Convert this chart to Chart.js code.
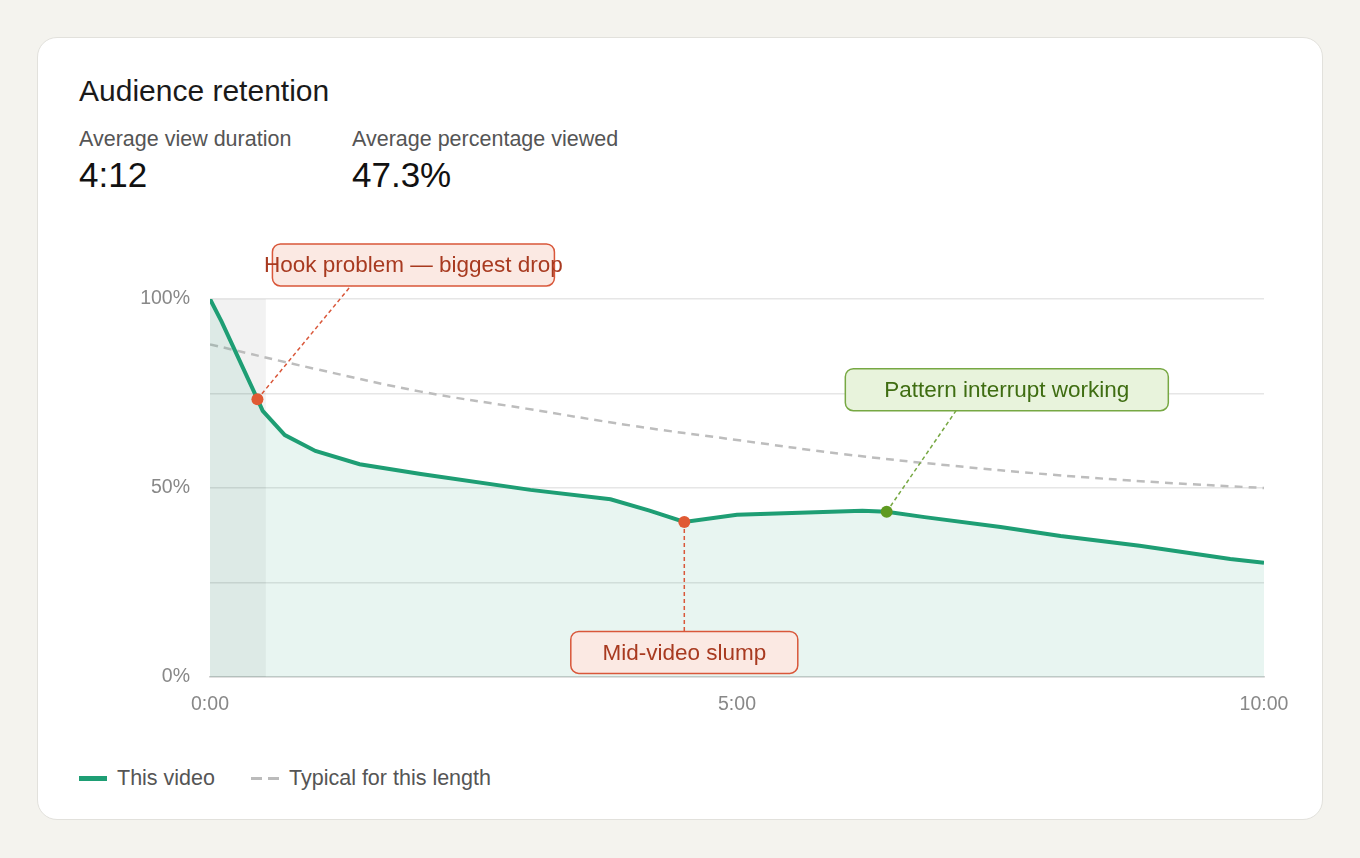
<!DOCTYPE html>
<html>
<head>
<meta charset="utf-8">
<script src="https://cdn.jsdelivr.net/npm/chart.js@4"></script>
<style>
  body { margin: 0; background: #f4f3ee; font-family: "Liberation Sans", Arial, sans-serif; }
  .card { position: absolute; left: 37px; top: 37px; width: 1284px; height: 781px; background: #fff;
          border: 1px solid #e2e1dc; border-radius: 20px; }
  .title { position: absolute; left: 41px; top: 36px; font-size: 30px; color: #1a1a1a; }
  .stat { position: absolute; top: 89px; }
  .stat .lbl { font-size: 21.5px; color: #555; }
  .stat .val { font-size: 35px; color: #111; margin-top: 3px; }
  .legend { position: absolute; left: 41px; top: 728px; font-size: 21.5px; color: #555; display: flex; align-items: center; }
  .legend span.sw { display: inline-block; width: 28px; margin-right: 10px; }
  #wrap { position: absolute; left: 100px; top: 230px; width: 1200px; height: 500px; }
</style>
</head>
<body>
<div class="card">
  <div class="title">Audience retention</div>
  <div class="stat" style="left:41px"><div class="lbl">Average view duration</div><div class="val">4:12</div></div>
  <div class="stat" style="left:314px"><div class="lbl">Average percentage viewed</div><div class="val">47.3%</div></div>
  <div class="legend">
    <span class="sw" style="border-top:5px solid #1e9e74"></span><span style="margin-right:36px">This video</span>
    <span class="sw" style="border-top:3px dashed #bbb; border-image: repeating-linear-gradient(90deg,#bbb 0 11px,transparent 11px 17px) 1"></span><span>Typical for this length</span>
  </div>
</div>
<div id="wrap"><canvas id="c"></canvas></div>
<script>
// minutes into the video
const videoMinutes = [0, 0.11, 0.45, 0.5, 0.71, 1.0, 1.42, 2.0, 3.04, 3.8, 4.17, 4.5, 5.0, 6.19, 6.42, 6.78, 7.5, 8.07, 8.82, 9.68, 10];
const videoRetention = [100, 94, 73.5, 70.4, 64, 59.8, 56.3, 53.7, 49.5, 47, 44, 41, 42.9, 44, 43.7, 42.3, 39.7, 37.3, 34.7, 31.2, 30.2];
const typicalMinutes = [0, 1, 2, 3, 4, 5, 6, 7, 8, 9, 10];
const typicalRetention = [88, 81.5, 75.5, 71, 66.5, 62.7, 59, 56, 53.5, 51.5, 50];
const hookEnd = 0.53;
// annotations: point on curve, label anchor
const notes = [
  { text: 'Hook problem — biggest drop', px: 0.45, py: 73.5, lx: 1.93, ly: 109, kind: 'bad', w: 282, ex: -28 },
  { text: 'Mid-video slump', px: 4.5, py: 41, lx: 4.5, ly: 6.5, kind: 'bad', w: 227, ex: 0 },
  { text: 'Pattern interrupt working', px: 6.42, py: 43.7, lx: 7.56, ly: 76, kind: 'good', w: 323, ex: -22 }
];

const styles = {
  bad: { fill: '#fbe9e3', stroke: '#d9573a', text: '#a83a20', dot: '#e05a34' },
  good: { fill: '#e8f3dc', stroke: '#77a843', text: '#3f6d12', dot: '#5f9a20' }
};

function rr(ctx, x, y, w, h, r) {
  ctx.beginPath();
  ctx.moveTo(x + r, y); ctx.arcTo(x + w, y, x + w, y + h, r); ctx.arcTo(x + w, y + h, x, y + h, r);
  ctx.arcTo(x, y + h, x, y, r); ctx.arcTo(x, y, x + w, y, r); ctx.closePath();
}

const overlay = {
  id: 'overlay',
  beforeDatasetsDraw(chart) {
    const { ctx, scales: { x, y } } = chart;
    ctx.save();
    ctx.fillStyle = 'rgba(0,0,0,0.05)';
    ctx.fillRect(x.getPixelForValue(0), y.getPixelForValue(100), x.getPixelForValue(hookEnd) - x.getPixelForValue(0), y.getPixelForValue(0) - y.getPixelForValue(100));
    ctx.restore();
  },
  afterDatasetsDraw(chart) {
    const { ctx, scales: { x, y } } = chart;
    ctx.save();
    notes.forEach(n => {
      const s = styles[n.kind];
      const px = x.getPixelForValue(n.px), py = y.getPixelForValue(n.py);
      const lx = x.getPixelForValue(n.lx), ly = y.getPixelForValue(n.ly);
      ctx.font = '22.5px "Liberation Sans", Arial, sans-serif';
      const w = n.w, h = 42;
      const ex = lx + n.ex, ey = ly > py ? ly + h / 2 : ly - h / 2;
      ctx.setLineDash([4, 3]); ctx.strokeStyle = s.stroke; ctx.lineWidth = 1.5;
      ctx.beginPath(); ctx.moveTo(px, py); ctx.lineTo(ex, ey); ctx.stroke();
      ctx.setLineDash([]);
      rr(ctx, lx - w / 2, ly - h / 2, w, h, 8);
      ctx.fillStyle = s.fill; ctx.fill(); ctx.strokeStyle = s.stroke; ctx.lineWidth = 1.5; ctx.stroke();
      ctx.fillStyle = s.text; ctx.textAlign = 'center'; ctx.textBaseline = 'middle';
      ctx.fillText(n.text, lx, ly + 1);
      ctx.beginPath(); ctx.arc(px, py, 6, 0, Math.PI * 2); ctx.fillStyle = s.dot; ctx.fill();
    });
    ctx.restore();
  }
};

new Chart(document.getElementById('c'), {
  type: 'line',
  data: {
    datasets: [
      {
        label: 'This video',
        data: videoMinutes.map((m, i) => ({ x: m, y: videoRetention[i] })),
        borderColor: '#1e9e74', borderWidth: 4, backgroundColor: 'rgba(30,158,116,0.1)',
        fill: 'origin', pointRadius: 0, tension: 0, order: 1
      },
      {
        label: 'Typical for this length',
        data: typicalMinutes.map((m, i) => ({ x: m, y: typicalRetention[i] })),
        borderColor: '#bdbdbd', borderWidth: 2.5, borderDash: [8, 6],
        fill: false, pointRadius: 0, tension: 0.4, order: 2
      }
    ]
  },
  options: {
    responsive: true, maintainAspectRatio: false, animation: false,
    layout: { padding: { left: 0, top: 69, right: 36, bottom: 13 } },
    plugins: { legend: { display: false }, tooltip: { enabled: false } },
    scales: {
      x: {
        type: 'linear', min: 0, max: 10,
        afterBuildTicks: a => { a.ticks = [0, 5, 10].map(v => ({ value: v })); },
        afterFit: a => { a.height = 40; },
        grid: { display: false }, border: { color: '#d0d0d0', width: 1.5 },
        ticks: { color: '#888', font: { size: 19.5, family: '"Liberation Sans", Arial' }, padding: 8, maxRotation: 0,
          callback: v => Math.floor(v) + ':00' }
      },
      y: {
        min: 0, max: 100,
        afterBuildTicks: a => { a.ticks = [0, 25, 50, 75, 100].map(v => ({ value: v })); },
        afterFit: a => { a.width = 110; },
        grid: { color: '#e6e6e6', lineWidth: 1.5, drawTicks: false }, border: { display: false },
        ticks: { color: '#888', font: { size: 19.5, family: '"Liberation Sans", Arial' }, padding: 20,
          callback: v => (v % 50 === 0 ? v + '%' : '') }
      }
    }
  },
  plugins: [overlay]
});
</script>
</body>
</html>
